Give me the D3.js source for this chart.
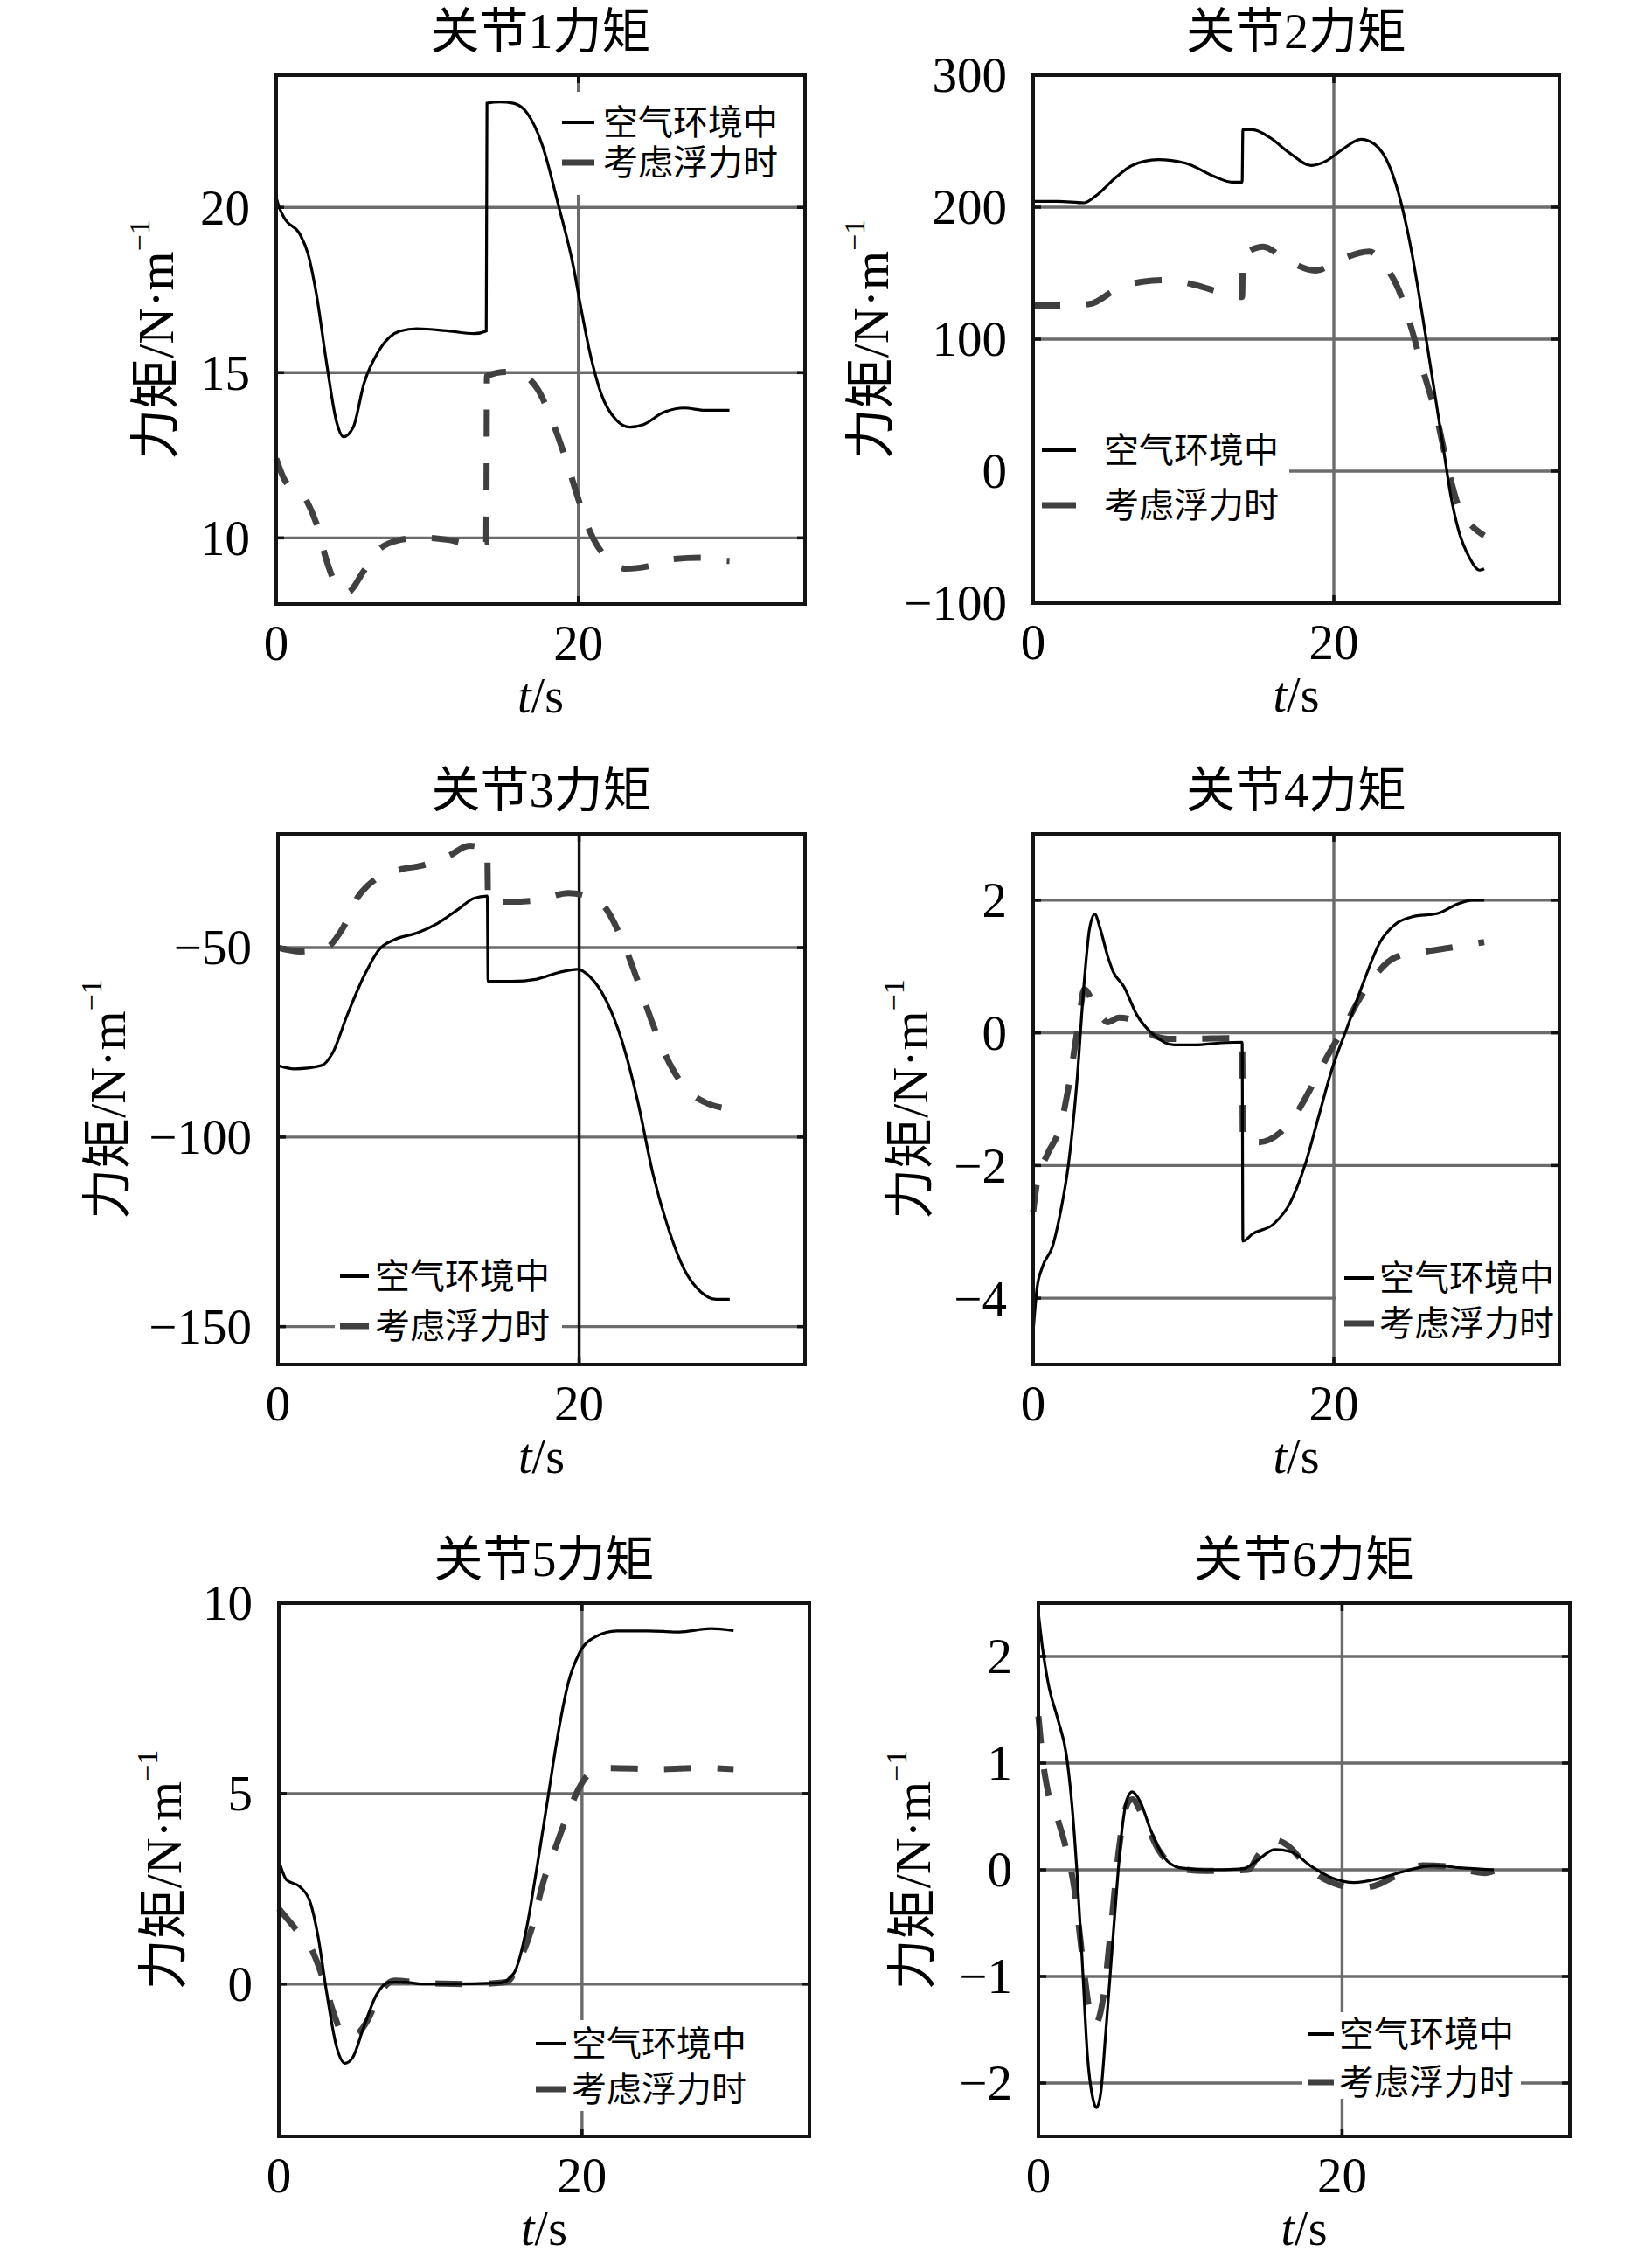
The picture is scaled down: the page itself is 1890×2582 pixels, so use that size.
<!DOCTYPE html>
<html>
<head>
<meta charset="utf-8">
<script src="https://cdn.jsdelivr.net/npm/d3@7"></script>
<style>
  body { margin: 0; background: #fff; }
  text { font-family: "Liberation Serif", "Noto Sans CJK SC", serif; fill: #000; }
</style>
</head>
<body>
<div id="chart"></div>
<script>
const width = 1890;
const height = 2582;

// series: [t, torque]
const j1Air = [[0,20.3],[0.2,20.0],[0.55,19.67],[1.6,19.16],[2.1,18.6],[2.65,17.4],[3.35,15.24],[4.0,13.5],[4.45,13.06],[5.1,13.35],[5.8,14.66],[6.8,15.67],[8.2,16.26],[9.3,16.33],[11.4,16.26],[13.1,16.18],[13.9,16.26],[13.95,23.15],[14.8,23.19],[15.7,23.15],[16.6,22.86],[17.6,21.9],[18.7,20.03],[19.7,18.14],[20.1,17.13],[20.8,15.53],[21.5,14.37],[22.5,13.57],[23.4,13.35],[24.3,13.43],[25.6,13.79],[27.0,13.93],[28.4,13.86],[30,13.86]];
const j1Buoy = [[0,12.4],[0.55,11.76],[1.95,11.18],[2.65,10.45],[3.35,9.29],[4.0,8.56],[4.7,8.35],[5.8,9.0],[6.8,9.65],[8.2,9.94],[9.6,10.01],[11.4,9.94],[12.6,9.84],[13.9,9.88],[13.95,14.9],[15.2,15.02],[16.2,14.95],[17.3,14.5],[18.3,13.5],[19.4,12.05],[20.1,11.03],[20.8,10.16],[21.8,9.43],[23.2,9.07],[24.6,9.14],[26.3,9.36],[28.1,9.4],[29.3,9.32],[30,9.3]];

const j2Air = [[0,204.4],[1.65,204.4],[3.4,203.3],[4.1,208],[5.5,222.5],[6.56,231.5],[8.3,236],[10.1,233.4],[12.2,222.5],[13.2,219],[13.9,219],[13.95,258.7],[14.6,258.7],[15.7,253],[17.1,240.6],[18.5,231.5],[19.5,235],[20.6,244],[21.8,251.4],[22.7,247.8],[23.75,229.7],[24.45,204.4],[25.2,164.6],[25.85,121],[26.6,67],[27.3,16.3],[27.8,-19.9],[28.3,-45],[29.0,-65],[29.7,-75],[30,-74]];
const j2Buoy = [[0,125.5],[1.65,125.5],[3.75,126.6],[5.5,137.5],[7.3,143.6],[9.0,144.7],[10.8,141],[12.9,134],[13.9,132],[13.95,162.8],[15.3,170],[16.7,161],[18.8,152],[20.2,159],[22.35,166.4],[23.4,155.6],[24.5,132],[25.2,106.7],[25.9,77.8],[26.9,38],[27.6,1.8],[28.3,-27],[29.2,-41.6],[30,-48.8]];

const j3Air = [[0,-81.1],[1.1,-82],[2.9,-81.1],[3.6,-78],[4.6,-67.8],[5.7,-57.6],[6.7,-50.6],[7.8,-47.8],[9.2,-46.2],[10.6,-43.6],[12.0,-39.8],[13.0,-37],[13.9,-36.4],[13.95,-58.9],[15.5,-58.9],[17.2,-58.3],[18.6,-56.6],[19.9,-55.7],[20.7,-57.6],[21.8,-64],[22.8,-74.1],[23.9,-90.7],[24.9,-109.7],[26,-125],[27,-135.1],[28.1,-140.9],[29.1,-142.8],[30,-142.8]];
const j3Buoy = [[0,-50],[1.5,-51],[3.2,-50],[4.3,-44.9],[5.3,-36.7],[6.4,-32.2],[8.1,-29.4],[9.5,-28.4],[11.3,-25.9],[12.7,-23.1],[13.9,-24.2],[13.95,-37.7],[15.5,-37.9],[17.2,-37.5],[19.3,-35.6],[20.7,-36.7],[21.8,-39.8],[22.8,-47.5],[23.9,-58.9],[24.9,-70.3],[26,-80.5],[27,-86.8],[28.3,-90.7],[30,-92.5]];

const j4Air = [[0,-4.51],[0.25,-3.86],[0.6,-3.54],[1.3,-3.21],[1.82,-2.7],[2.35,-1.98],[2.88,-0.82],[3.4,0.78],[3.75,1.57],[4.1,1.79],[4.46,1.57],[4.98,1.14],[5.33,0.92],[6.03,0.7],[6.9,0.27],[7.96,-0.02],[9.37,-0.18],[10.8,-0.18],[12.5,-0.15],[13.9,-0.14],[13.95,-3.14],[14.6,-3.03],[16.0,-2.88],[17.1,-2.56],[18.1,-1.98],[19.0,-1.25],[19.9,-0.53],[20.95,0.12],[22,0.78],[23.05,1.36],[24.1,1.64],[25.2,1.75],[26.9,1.8],[28.3,1.95],[29.2,2.0],[30,2.0]];
const j4Buoy = [[0,-2.7],[0.25,-2.27],[0.95,-1.83],[1.82,-1.4],[2.35,-0.82],[3.05,0.2],[3.4,0.66],[4.1,0.41],[4.98,0.16],[5.7,0.23],[6.56,0.2],[7.6,0.01],[9.0,-0.09],[10.8,-0.09],[12.9,-0.08],[13.9,-0.08],[13.95,-1.65],[15.0,-1.65],[16.4,-1.51],[17.4,-1.25],[18.5,-0.82],[19.5,-0.38],[20.6,0.05],[21.65,0.49],[22.7,0.85],[24.1,1.14],[25.9,1.22],[27.6,1.28],[30,1.37]];

const j5Air = [[0,3.24],[0.5,2.74],[1.4,2.55],[2.1,2.11],[2.6,1.22],[3.13,-0.16],[3.83,-1.68],[4.35,-2.08],[4.87,-1.93],[5.57,-1.17],[6.43,-0.29],[7.3,0.05],[8.35,0.05],[9.4,0],[11.1,0],[14.6,0.03],[15.5,0.28],[16.35,1.48],[17.0,3.0],[17.7,4.76],[18.4,6.53],[19.1,7.92],[19.8,8.67],[20.9,9.12],[22.3,9.27],[24.35,9.27],[26.4,9.24],[28.5,9.33],[30,9.28]];
const j5Buoy = [[0,1.98],[1.04,1.48],[2.1,0.97],[2.96,0.09],[3.65,-0.8],[4.17,-1.3],[4.6,-1.38],[5.2,-1.3],[5.9,-0.92],[6.6,-0.29],[7.65,0.09],[9.4,0.03],[12.9,0],[15.0,0.05],[16.0,0.72],[16.7,1.48],[17.4,2.61],[18.4,3.75],[19.1,4.5],[19.8,5.14],[20.7,5.58],[21.9,5.67],[25.0,5.64],[27.8,5.67],[30,5.64]];

const j6Air = [[0,2.41],[0.28,2.07],[0.63,1.76],[1.3,1.4],[1.84,1.08],[2.19,0.64],[2.53,0],[2.88,-0.84],[3.23,-1.74],[3.58,-2.14],[3.82,-2.23],[4.1,-2.1],[4.44,-1.52],[4.97,-0.53],[5.5,0.37],[5.83,0.66],[6.18,0.73],[6.7,0.64],[7.4,0.37],[8.26,0.12],[9.3,0.02],[11.0,0],[13.5,0.01],[14.35,0.08],[15.56,0.19],[16.6,0.17],[18.0,0.03],[19.4,-0.08],[20.8,-0.12],[22.5,-0.08],[24.2,-0.01],[26.0,0.04],[27.7,0.02],[30,0]];
const j6Buoy = [[0,1.44],[0.28,1.04],[0.63,0.73],[1.3,0.46],[1.84,0.19],[2.36,-0.17],[2.88,-0.8],[3.4,-1.34],[3.75,-1.45],[4.27,-1.2],[4.79,-0.53],[5.3,0.19],[5.83,0.61],[6.18,0.66],[6.87,0.5],[7.9,0.19],[9.3,0.01],[11.0,-0.01],[13.8,0],[14.5,0.14],[15.56,0.28],[16.4,0.23],[17.6,0.05],[19.0,-0.1],[21.1,-0.17],[22.15,-0.15],[23.5,-0.06],[25.3,0.04],[27.0,0.03],[29.4,-0.03],[30,-0.01]];

const xTicks = [0, 20];
const j1Ticks = [10, 15, 20];
const j2Ticks = [-100, 0, 100, 200, 300];
const j3Ticks = [-150, -100, -50];
const j4Ticks = [-4, -2, 0, 2];
const j5Ticks = [0, 5, 10];
const j6Ticks = [-2, -1, 0, 1, 2];

const legendNames = ["空气环境中", "考虑浮力时"];

const gridColor = "#6b6b6b";
const dashColor = "#404040";

// layout: box = [left, top, width, height]; legend in box-relative pixels
const panels = [
  { title: "关节1力矩", box: [316, 86, 605, 605], y: [8, 24], ticks: j1Ticks, air: j1Air, buoy: j1Buoy, ylab: -138,
    legend: { x: 327, len: 37, tx: 374, rows: [54, 100], bg: [322, 19, 283, 118] } },
  { title: "关节2力矩", box: [1182, 86, 602, 604], y: [-100, 300], ticks: j2Ticks, air: j2Air, buoy: j2Buoy, ylab: -186,
    legend: { x: 10, len: 39, tx: 81, rows: [429, 492], bg: [2, 394, 291, 130] } },
  { title: "关节3力矩", box: [318, 954, 603, 607], y: [-160, -20], ticks: j3Ticks, air: j3Air, buoy: j3Buoy, ylab: -195,
    vgrid: "#111", legend: { x: 71, len: 33, tx: 111, rows: [506, 563], bg: [65, 471, 260, 125] } },
  { title: "关节4力矩", box: [1182, 954, 602, 607], y: [-5, 3], ticks: j4Ticks, air: j4Air, buoy: j4Buoy, ylab: -141,
    legend: { x: 356, len: 34, tx: 396, rows: [508, 560], bg: [347, 476, 255, 115] } },
  { title: "关节5力矩", box: [319, 1834, 607, 610], y: [-4, 10], ticks: j5Ticks, air: j5Air, buoy: j5Buoy, ylab: -132,
    legend: { x: 294, len: 35, tx: 335, rows: [504, 556], bg: [286, 477, 265, 104] } },
  { title: "关节6力矩", box: [1188, 1834, 608, 610], y: [-2.5, 2.5], ticks: j6Ticks, air: j6Air, buoy: j6Buoy, ylab: -144,
    legend: { x: 308, len: 30, tx: 344, rows: [493, 548], bg: [302, 468, 250, 99] } },
];

const fmt = (v) => (v < 0 ? "\u2212" + Math.abs(v) : String(v));

const svg = d3
  .select("#chart")
  .append("svg")
  .attr("width", width)
  .attr("height", height)
  .style("background", "#fff");

const drawPanel = (p) => {
  const [left, top, w, h] = p.box;
  const xScale = d3.scaleLinear().domain([0, 35]).range([0, w]);
  const yScale = d3.scaleLinear().domain(p.y).range([h, 0]);

  const g = svg.append("g").attr("transform", `translate(${left},${top})`);

  // grid
  g.selectAll(".hgrid")
    .data(p.ticks)
    .join("line")
    .attr("x1", 0)
    .attr("x2", w)
    .attr("y1", (d) => yScale(d))
    .attr("y2", (d) => yScale(d))
    .attr("stroke", gridColor)
    .attr("stroke-width", 3.4);

  g.selectAll(".vgrid")
    .data(xTicks)
    .join("line")
    .attr("x1", (d) => xScale(d))
    .attr("x2", (d) => xScale(d))
    .attr("y1", 0)
    .attr("y2", h)
    .attr("stroke", p.vgrid || gridColor)
    .attr("stroke-width", 3.4);

  // inward tick marks on all four sides
  const tickLen = 9;
  p.ticks.forEach((d) => {
    [[0, tickLen], [w - tickLen, w]].forEach(([a, b]) => {
      g.append("line")
        .attr("x1", a).attr("x2", b)
        .attr("y1", yScale(d)).attr("y2", yScale(d))
        .attr("stroke", "#111").attr("stroke-width", 3.5);
    });
  });
  xTicks.forEach((d) => {
    [[0, tickLen], [h - tickLen, h]].forEach(([a, b]) => {
      g.append("line")
        .attr("x1", xScale(d)).attr("x2", xScale(d))
        .attr("y1", a).attr("y2", b)
        .attr("stroke", "#111").attr("stroke-width", 3.5);
    });
  });

  const line = d3
    .line()
    .x((d) => xScale(d[0]))
    .y((d) => yScale(d[1]))
    .curve(d3.curveMonotoneX);

  g.append("path")
    .attr("d", line(p.buoy))
    .attr("fill", "none")
    .attr("stroke", dashColor)
    .attr("stroke-width", 7)
    .attr("stroke-dasharray", "31 30");

  g.append("path")
    .attr("d", line(p.air))
    .attr("fill", "none")
    .attr("stroke", "#000")
    .attr("stroke-width", 3.2);

  // legend
  const L = p.legend;
  g.append("rect")
    .attr("x", L.bg[0]).attr("y", L.bg[1])
    .attr("width", L.bg[2]).attr("height", L.bg[3])
    .attr("fill", "#fff");
  legendNames.forEach((name, i) => {
    g.append("line")
      .attr("x1", L.x).attr("x2", L.x + L.len)
      .attr("y1", L.rows[i]).attr("y2", L.rows[i])
      .attr("stroke", i === 0 ? "#000" : dashColor)
      .attr("stroke-width", i === 0 ? 4 : 7);
    g.append("text")
      .attr("x", L.tx)
      .attr("y", L.rows[i])
      .attr("dominant-baseline", "central")
      .style("font-size", "40px")
      .text(name);
  });

  // frame
  g.append("rect")
    .attr("width", w).attr("height", h)
    .attr("fill", "none")
    .attr("stroke", "#141414")
    .attr("stroke-width", 4);

  // tick labels
  g.selectAll(".ylab")
    .data(p.ticks)
    .join("text")
    .attr("x", -30)
    .attr("y", (d) => yScale(d))
    .attr("dy", "0.34em")
    .attr("text-anchor", "end")
    .style("font-size", "57px")
    .text(fmt);

  g.selectAll(".xlab")
    .data(xTicks)
    .join("text")
    .attr("x", (d) => xScale(d))
    .attr("y", h + 64)
    .attr("text-anchor", "middle")
    .style("font-size", "57px")
    .text(fmt);

  // title
  g.append("text")
    .attr("x", w / 2)
    .attr("y", -31)
    .attr("text-anchor", "middle")
    .style("font-size", "56px")
    .text(p.title);

  // x label
  const xl = g.append("text")
    .attr("x", w / 2)
    .attr("y", h + 124)
    .attr("text-anchor", "middle")
    .style("font-size", "56px");
  xl.append("tspan").style("font-style", "italic").text("t");
  xl.append("tspan").text("/s");

  // y label
  const yl = g.append("text")
    .attr("transform", `translate(${p.ylab},${h / 2}) rotate(-90)`)
    .attr("text-anchor", "middle")
    .attr("dominant-baseline", "central")
    .style("font-size", "58px");
  yl.append("tspan").text("力矩/N·m");
  yl.append("tspan")
    .attr("dy", "-0.55em")
    .style("font-size", "34px")
    .text("\u22121");
};

panels.forEach(drawPanel);
</script>
</body>
</html>
